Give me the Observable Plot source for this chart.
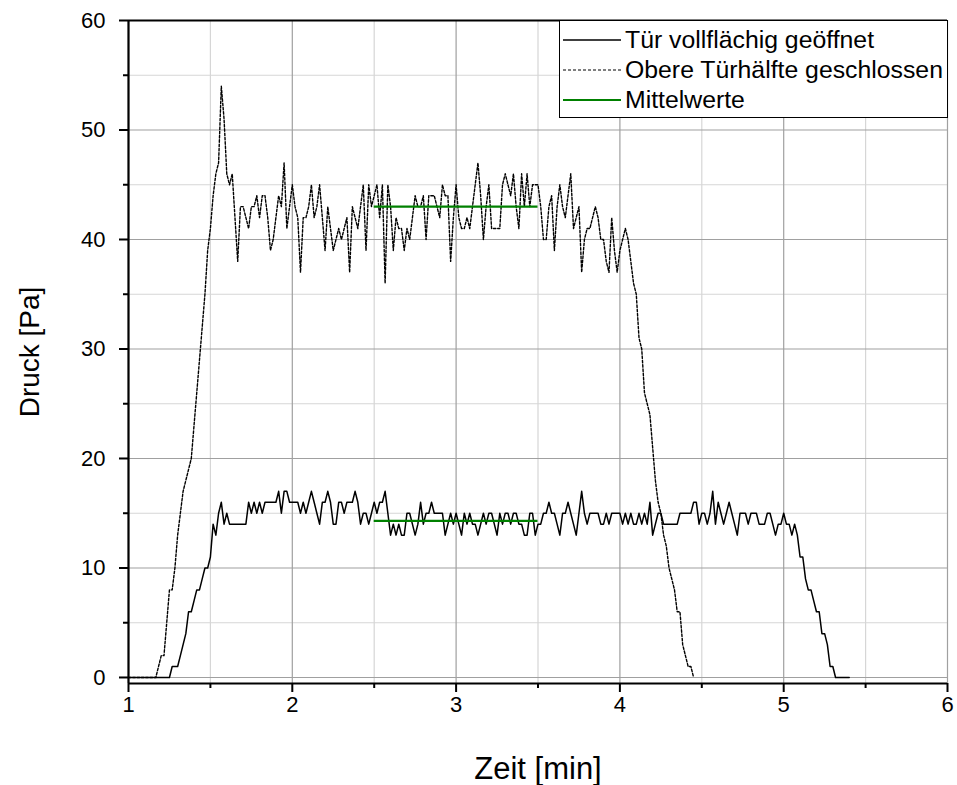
<!DOCTYPE html>
<html>
<head>
<meta charset="utf-8">
<script src="https://cdn.jsdelivr.net/npm/d3@7"></script>
<script src="https://cdn.jsdelivr.net/npm/@observablehq/plot@0.6"></script>
<style>
  body { margin: 0; background: #fff; font-family: "Liberation Sans", Arial, sans-serif; }
  #wrap { position: relative; width: 957px; height: 785px; }
  #wrap svg { display: block; }
  #legend { position: absolute; left: 559px; top: 20px; width: 389px; height: 98px; box-sizing: border-box;
            border: 1px solid #000; background: #fff; padding-top: 4px; }
  .row { display: flex; align-items: center; height: 30px; font-size: 24.8px; color: #000; white-space: nowrap; }
  .row svg { display: block; margin-left: 3px; margin-right: 4px; }
</style>
</head>
<body>
<div id="wrap"></div>
<script>
// ---- data ----
const sampleMinutes = 1 / 60;   // one sample per second
const startMinute = 1;

const seriesNames = ["Tür vollflächig geöffnet", "Obere Türhälfte geschlossen", "Mittelwerte"];

// Tür vollflächig geöffnet [Pa]
const solidValues = [
  0,0,0,0,0,0,0,0,0,0,
  0,0,0,0,0,0,1,1,1,2,
  3,4,6,6,7,8,8,9,10,10,
  11,14,13,15,16,14,15,14,14,14,
  14,14,14,14,16,15,16,15,16,15,
  16,16,16,16,16,17,15,17,17,16,
  16,16,16,15,16,15,16,17,16,15,
  14,16,16,17,16,14,14,16,16,15,
  16,16,16,17,16,14,15,15,14,15,
  16,15,16,16,17,15,13,14,13,14,
  13,13,15,15,14,13,14,16,14,15,
  15,16,15,15,15,15,13,14,15,14,
  15,14,13,15,14,15,14,14,13,14,
  15,14,15,15,14,13,15,14,15,15,
  14,15,15,14,14,13,13,15,15,13,
  14,14,15,15,16,15,15,14,13,15,
  15,16,15,14,13,15,17,15,14,15,
  15,15,15,14,14,15,14,15,15,15,
  15,14,15,14,15,14,14,15,14,15,
  14,16,13,14,15,15,14,14,14,14,
  14,14,15,15,15,15,15,16,16,14,
  15,15,14,15,17,14,16,15,14,15,
  16,15,14,13,15,15,15,14,15,15,
  15,14,14,14,15,15,14,13,14,14,
  15,14,14,13,14,13,11,11,9,8,
  8,7,6,6,4,4,3,1,1,0,
  0,0,0,0,0
];

// Obere Türhälfte geschlossen [Pa]
const dashedValues = [
  0,0,0,0,0,0,0,0,0,0,
  0,1,2,2,5,8,8,10,13,15,
  17,18,19,20,23,26,29,32,35,39,
  41,44,46,47,54,51,46,45,46,42,
  38,43,43,42,41,43,43,44,42,44,
  44,42,39,40,42,44,43,47,41,43,
  45,43,42,37,42,42,43,45,42,43,
  45,42,39,43,41,39,40,41,40,41,
  42,37,43,42,41,43,45,39,45,43,
  44,45,42,45,36,45,43,39,42,41,
  41,39,41,40,42,44,43,43,44,40,
  44,44,44,43,42,45,44,44,38,42,
  45,42,41,41,42,41,43,45,47,44,
  40,43,45,41,41,41,41,45,46,45,
  44,46,43,41,46,43,46,43,45,45,
  45,43,40,40,43,44,39,43,45,43,
  42,44,46,41,42,43,37,40,41,41,
  42,43,42,40,40,38,37,42,39,37,
  39,40,41,40,38,36,35,31,30,26,
  25,24,21,18,16,15,13,12,10,9,
  8,6,6,3,2,1,1,0
];

// Mittelwerte
const meanStart = [2.5, 2.5];
const meanEnd = [3.5, 3.5];
const meanValues = [43, 14.3];

// axes
const xMajorTicks = [1, 2, 3, 4, 5, 6];
const xMinorTicks = [1.5, 2.5, 3.5, 4.5, 5.5];
const yMajorTicks = [0, 10, 20, 30, 40, 50, 60];
const yMinorTicks = [5, 15, 25, 35, 45, 55];
const xDomain = [1, 6];
const yDomain = [-0.55, 60];
const xTitle = "Zeit [min]";
const yTitle = "Druck [Pa]";

// ---- build tables ----
const solid = solidValues.map((v, i) => ({t: startMinute + i * sampleMinutes, v}));
const dashed = dashedValues.map((v, i) => ({t: startMinute + i * sampleMinutes, v}));
const means = meanValues.map((v, i) => ({x1: meanStart[i], x2: meanEnd[i], y: v}));

const font = '"Liberation Sans", Arial, sans-serif';
const intFormat = d => String(d);

const chart = Plot.plot({
  width: 957,
  height: 785,
  marginLeft: 128,
  marginRight: 10,
  marginTop: 20,
  marginBottom: 102,
  x: {domain: xDomain},
  y: {domain: yDomain},
  style: {fontFamily: font, fontSize: "22px", background: "white", color: "black"},
  marks: [
    Plot.gridX(xMinorTicks, {stroke: "#d6d6d6", strokeOpacity: 1, strokeWidth: 1.2}),
    Plot.gridY(yMinorTicks, {stroke: "#d6d6d6", strokeOpacity: 1, strokeWidth: 1.2}),
    Plot.gridX(xMajorTicks, {stroke: "#a0a0a0", strokeOpacity: 1, strokeWidth: 1.2}),
    Plot.gridY(yMajorTicks, {stroke: "#a0a0a0", strokeOpacity: 1, strokeWidth: 1.2}),
    Plot.line(dashed, {x: "t", y: "v", stroke: "black", strokeWidth: 1.4, strokeDasharray: "2.5,1.8"}),
    Plot.line(solid, {x: "t", y: "v", stroke: "black", strokeWidth: 1.5}),
    Plot.ruleY(means, {x1: "x1", x2: "x2", y: "y", stroke: "#008000", strokeWidth: 2.2}),
    Plot.ruleX([xDomain[0]], {stroke: "black", strokeWidth: 2.2}),
    Plot.ruleY([yDomain[0]], {stroke: "black", strokeWidth: 2.2}),
    Plot.ruleY([yDomain[1]], {stroke: "black", strokeWidth: 2.2}),
    Plot.axisX(xMajorTicks, {tickSize: 9, tickPadding: 4, strokeWidth: 2, label: null, fontSize: 22, tickFormat: intFormat}),
    Plot.axisX(xMinorTicks, {tickSize: 5, strokeWidth: 2, tickFormat: () => "", label: null}),
    Plot.axisY(yMajorTicks, {tickSize: 9, tickPadding: 14, strokeWidth: 2, label: null, fontSize: 22, tickFormat: intFormat}),
    Plot.axisY(yMinorTicks, {tickSize: 5, strokeWidth: 2, tickFormat: () => "", label: null}),
    Plot.text([xTitle], {frameAnchor: "bottom", lineAnchor: "middle", dy: 86, fontSize: 31, fill: "black"}),
    Plot.text([yTitle], {frameAnchor: "left", textAnchor: "middle", lineAnchor: "middle", dx: -98, rotate: -90, fontSize: 28, fill: "black"})
  ]
});

const wrap = document.getElementById("wrap");
wrap.appendChild(chart);

// legend overlay
const legend = document.createElement("div");
legend.id = "legend";
const styles = [
  {stroke: "black", width: 1.5, dash: null},
  {stroke: "black", width: 1.2, dash: "3,2"},
  {stroke: "#008000", width: 2.2, dash: null}
];
seriesNames.forEach((name, i) => {
  const row = document.createElement("div");
  row.className = "row";
  const s = d3.create("svg").attr("width", 58).attr("height", 30);
  s.append("line").attr("x1", 0).attr("x2", 58).attr("y1", 15).attr("y2", 15)
    .attr("stroke", styles[i].stroke).attr("stroke-width", styles[i].width)
    .attr("stroke-dasharray", styles[i].dash);
  row.appendChild(s.node());
  const span = document.createElement("span");
  span.textContent = name;
  row.appendChild(span);
  legend.appendChild(row);
});
wrap.appendChild(legend);
</script>
</body>
</html>
